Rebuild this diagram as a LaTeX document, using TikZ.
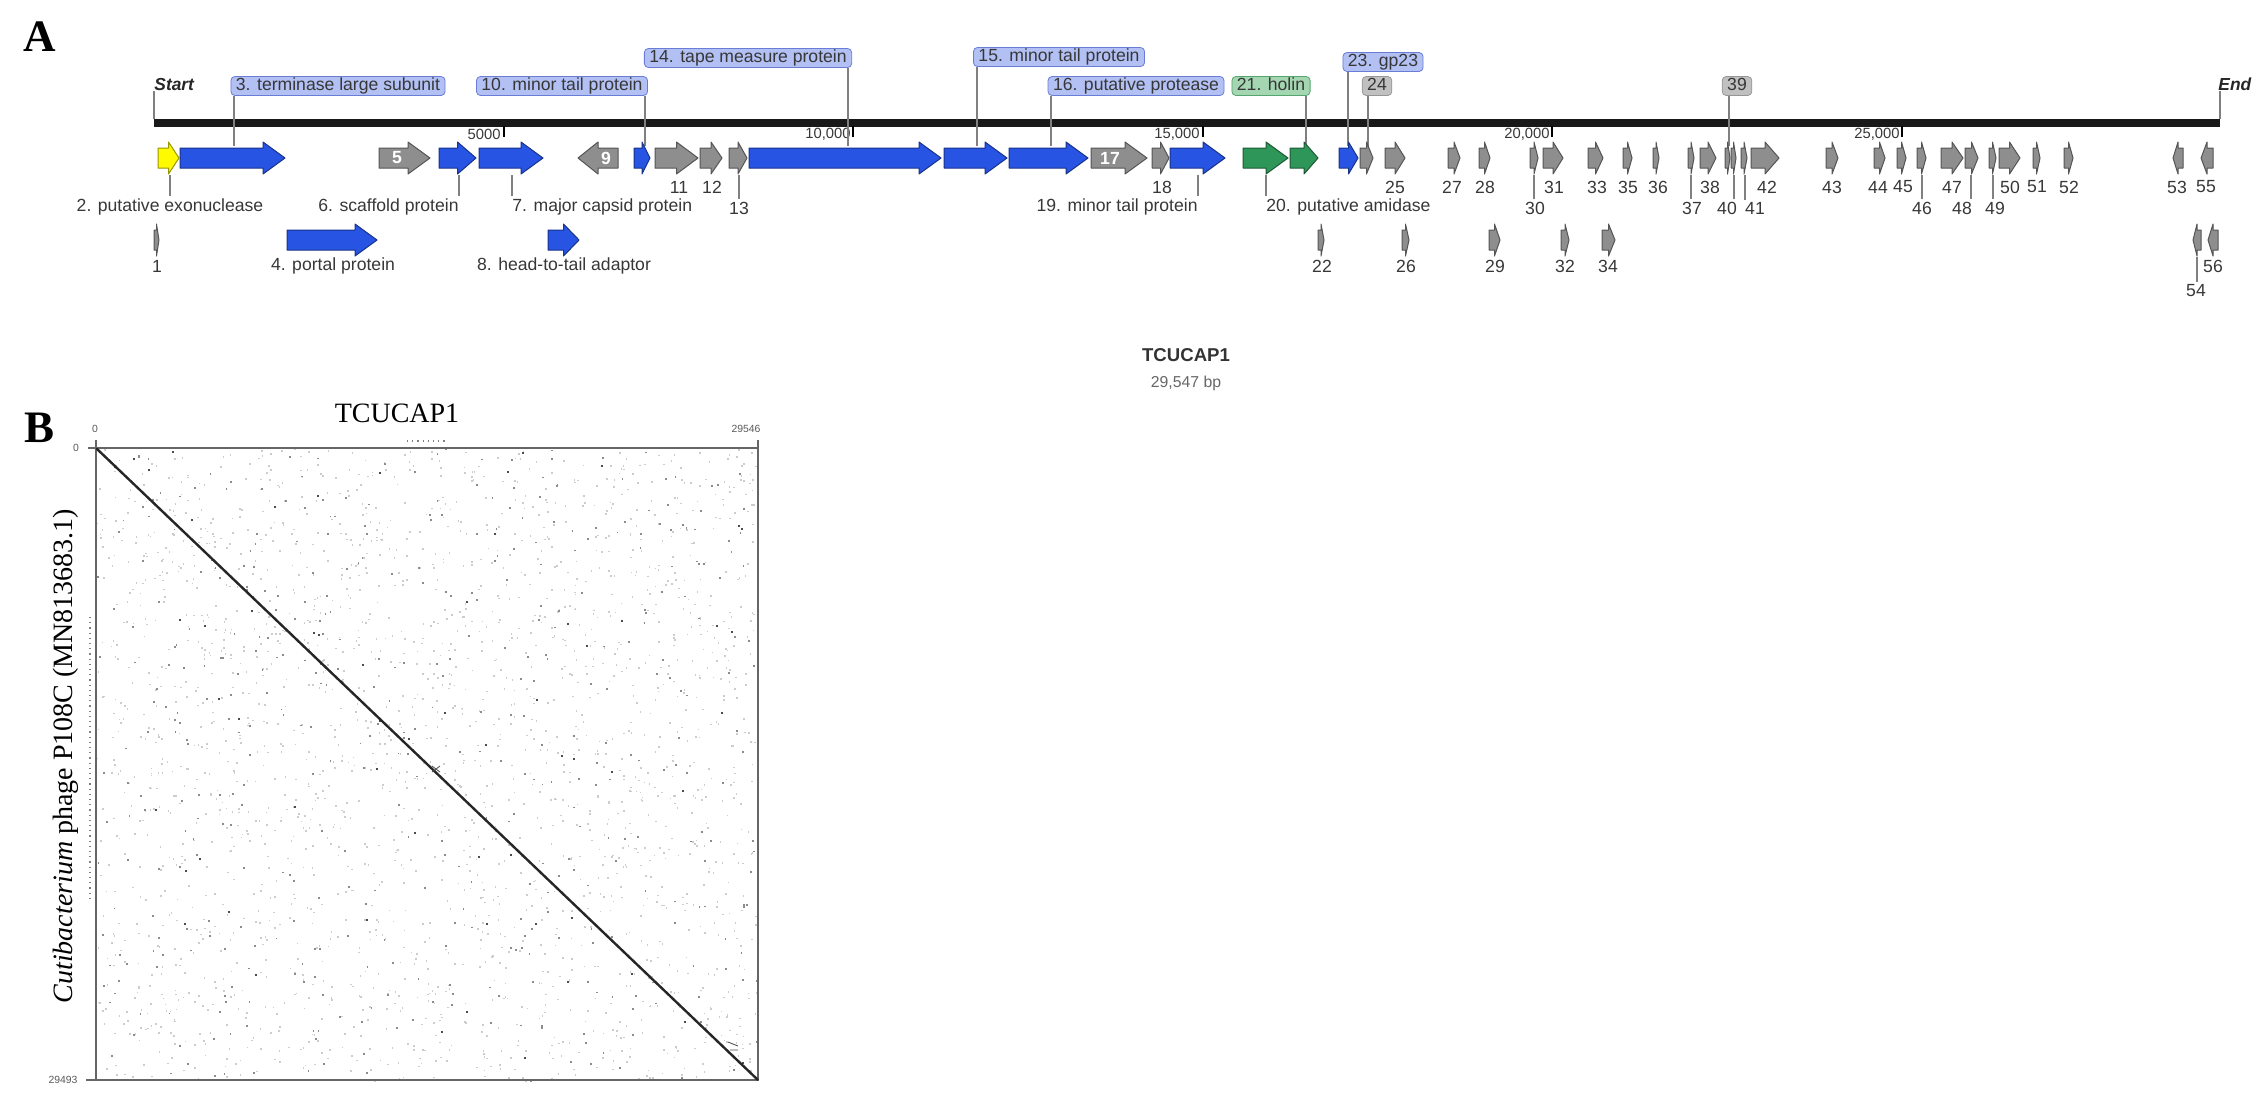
\documentclass[tikz,border=0pt]{standalone}
\usepackage{fontspec}
\setmainfont{Liberation Serif}
\setsansfont{Liberation Sans}
\usetikzlibrary{positioning}
\definecolor{cdsblue}{RGB}{40,84,228}
\definecolor{cdsgray}{RGB}{142,142,142}
\definecolor{cdsgreen}{RGB}{46,150,88}
\definecolor{cdsyellow}{RGB}{255,250,0}
\definecolor{tagblue}{RGB}{178,192,244}
\definecolor{tagblueline}{RGB}{105,125,215}
\definecolor{taggreen}{RGB}{164,214,178}
\definecolor{taggreenline}{RGB}{85,165,110}
\definecolor{taggray}{RGB}{192,192,192}
\definecolor{taggrayline}{RGB}{150,150,150}
\definecolor{ink}{RGB}{55,55,55}

\begin{document}
\begin{tikzpicture}[x=0.5pt, y=-0.5pt,
    panel/.style={font=\fontsize{22.5}{24}\selectfont\bfseries, inner sep=0pt},
    lbl/.style={font=\sffamily\fontsize{8.8}{10}\selectfont, text=ink, inner sep=1pt},
    tag/.style={lbl, rectangle, rounded corners=2pt, inner xsep=2.5pt, inner ysep=0.6pt, text height=6.5pt, text depth=1.8pt},
    bluetag/.style={tag, fill=tagblue, draw=tagblueline},
    greentag/.style={tag, fill=taggreen, draw=taggreenline},
    graytag/.style={tag, fill=taggray, draw=taggrayline},
    intext/.style={font=\sffamily\bfseries\fontsize{8.8}{10}\selectfont, text=white, inner sep=0pt},
    scalelbl/.style={font=\sffamily\fontsize{7.4}{8}\selectfont, text=ink, inner sep=0pt, anchor=east},
    endlbl/.style={font=\sffamily\bfseries\itshape\fontsize{8.7}{10}\selectfont, text=black!85, inner sep=0pt, anchor=base west},
    leader/.style={draw=black!50, line width=0.6pt},
    cds/.style={line width=0.5pt, line join=round},
    axislbl/.style={font=\sffamily\fontsize{5.2}{6}\selectfont, text=black!65, inner sep=0pt}
]
\useasboundingbox (0,0) rectangle (2268,1100);

\node[panel] (pa) at (40,37) {A};
\node[panel] (pb) at (40,428) {B};

\fill[black!90] (154,118.5) rectangle (2220,126.5);
\coordinate (gstart) at (154,118.5);
\coordinate (gend) at (2220,118.5);
\node[endlbl] (start) at (154,90) {Start};
\node[endlbl] (end) at (2218,90) {End};
\draw[leader] (gstart) -- (gstart |- start.south);
\draw[leader] (gend) -- (gend |- end.south);

\foreach \x in {503.6,853.2,1202.8,1552.4,1902}
  \draw[line width=1pt] (\x,126) -- (\x,137);
\node[scalelbl] (s5) at (501,134) {5000};
\node[scalelbl] (s10) at (851,134) {10,000};
\node[scalelbl] (s15) at (1200,134) {15,000};
\node[scalelbl] (s20) at (1550,134) {20,000};
\node[scalelbl] (s25) at (1900,134) {25,000};

\node[bluetag] (t3) at (338,86) {3. terminase large subunit};
\node[bluetag] (t10) at (562,86) {10. minor tail protein};
\node[bluetag] (t14) at (748,58) {14. tape measure protein};
\node[bluetag] (t15) at (1059,57) {15. minor tail protein};
\node[bluetag] (t16) at (1136,86) {16. putative protease};
\node[greentag] (t21) at (1271,86) {21. holin};
\node[bluetag] (t23) at (1383,62) {23. gp23};
\node[graytag] (t24) at (1377,86) {24};
\node[graytag] (t39) at (1737,86) {39};

\foreach \n/\x in {3/234,10/645,14/848,15/977,16/1051,21/1306,23/1348,24/1368,39/1729}
  {\coordinate (p\n) at (\x,146);
   \draw[leader] (t\n.south -| p\n) -- (p\n);}

\foreach \a/\b/\r/\c in {158/179/158/cdsyellow, 180/285/158/cdsblue, 379/430/158/cdsgray,
    439/476/158/cdsblue, 479/543/158/cdsblue, 618/578/158/cdsgray, 634/650/158/cdsblue,
    655/698/158/cdsgray, 700/722/158/cdsgray, 729/747/158/cdsgray, 749/941/158/cdsblue,
    944/1007/158/cdsblue, 1009/1088/158/cdsblue, 1091/1147/158/cdsgray, 1152/1169/158/cdsgray,
    1170/1225/158/cdsblue, 1243/1288/158/cdsgreen, 1290/1318/158/cdsgreen, 1339/1358/158/cdsblue,
    1360/1373/158/cdsgray, 1385/1405/158/cdsgray, 1448/1460/158/cdsgray, 1479/1490/158/cdsgray,
    1530/1538/158/cdsgray, 1543/1563/158/cdsgray, 1588/1603/158/cdsgray, 1623/1632/158/cdsgray,
    1653/1659/158/cdsgray, 1688/1694/158/cdsgray, 1700/1716/158/cdsgray, 1725/1730/158/cdsgray,
    1731/1736/158/cdsgray, 1741/1747/158/cdsgray, 1751/1779/158/cdsgray, 1826/1838/158/cdsgray,
    1874/1885/158/cdsgray, 1897/1906/158/cdsgray, 1917/1926/158/cdsgray, 1941/1963/158/cdsgray,
    1965/1978/158/cdsgray, 1989/1996/158/cdsgray, 1999/2020/158/cdsgray, 2033/2040/158/cdsgray,
    2064/2073/158/cdsgray, 2183/2173/158/cdsgray, 2213/2201/158/cdsgray,
    154/159/240/cdsgray, 287/377/240/cdsblue, 548/579/240/cdsblue, 1318/1324/240/cdsgray,
    1402/1409/240/cdsgray, 1489/1500/240/cdsgray, 1561/1569/240/cdsgray, 1602/1615/240/cdsgray,
    2201/2193/240/cdsgray, 2218/2208/240/cdsgray}
  {\pgfmathsetmacro{\hl}{sign(\b-\a)*min(22,abs(\b-\a)/2)}
   \filldraw[cds, fill=\c, draw=\c!60!black] (\a,\r-10) -- ({\b-\hl},\r-10) -- ({\b-\hl},\r-16)
     -- (\b,\r) -- ({\b-\hl},\r+16) -- ({\b-\hl},\r+10) -- (\a,\r+10) -- cycle;}

\node[intext] (g5) at (397,158) {5};
\node[intext] (g9) at (606,158) {9};
\node[intext] (g17) at (1110,158) {17};

\node[lbl] (l2) at (170,207) {2. putative exonuclease};
\node[lbl, anchor=east] (l6) at (461,207) {6. scaffold protein};
\node[lbl, anchor=west] (l7) at (510,207) {7. major capsid protein};
\node[lbl, anchor=east] (l19) at (1200,207) {19. minor tail protein};
\node[lbl, anchor=west] (l20) at (1264,207) {20. putative amidase};
\node[lbl] (l4) at (333,266) {4. portal protein};
\node[lbl] (l8) at (564,266) {8. head-to-tail adaptor};

\foreach \t/\x in {11/679,12/712,18/1162,25/1395,27/1452,28/1485,31/1554,33/1597,35/1628,
    36/1658,38/1710,42/1767,43/1832,44/1878,45/1903,47/1952,50/2010,51/2037,52/2069,53/2177,55/2206}
  \node[lbl] (n\t) at (\x,187) {\t};
\foreach \t/\x in {13/739,30/1535,37/1692,40/1727,41/1755,46/1922,48/1962,49/1995}
  \node[lbl] (n\t) at (\x,208) {\t};
\foreach \t/\x in {1/157,22/1322,26/1406,29/1495,32/1565,34/1608,56/2213}
  \node[lbl] (n\t) at (\x,266) {\t};
\node[lbl] (n54) at (2196,291) {54};

\foreach \n/\x in {2/170,6/459,7/512,19/1198,20/1266}
  {\coordinate (p\n) at (\x,175);
   \draw[leader] (p\n) -- (p\n |- l\n.north);}
\foreach \n/\x in {13/739,30/1534,37/1691,40/1734,41/1745,46/1922,48/1971,49/1993}
  {\coordinate (p\n) at (\x,175);
   \draw[leader] (p\n) -- (p\n |- n\n.north);}
\coordinate (p54) at (2197,257);
\draw[leader] (p54) -- (p54 |- n54.north);

\node[font=\sffamily\bfseries\fontsize{9.3}{10}\selectfont, text=black!80] (gname) at (1186,355) {TCUCAP1};
\node[font=\sffamily\fontsize{7.9}{9}\selectfont, text=black!60, below=0pt of gname] (glen) {29,547 bp};

\coordinate (o) at (96,448);
\coordinate (e) at (758,1080);
\pgfmathsetseed{17}
\foreach \i in {1,...,2200}
  \fill[black!20] ({96+662*rnd},{448+632*rnd}) rectangle ++(1.6,1.6);
\foreach \i in {1,...,450}
  \fill[black!45] ({96+662*rnd},{448+632*rnd}) rectangle ++(1.8,1.8);
\foreach \i in {1,...,60}
  \fill[black!70] ({96+662*rnd},{448+632*rnd}) rectangle ++(2,2);
\draw[black!50, line width=0.6pt, dotted] (90,617) -- (90,900);
\draw[black!50, line width=0.6pt, dotted] (407,441) -- (445,441);
\draw[black!60, line width=0.9pt] (o) rectangle (e);
\draw[black!85, line width=1.2pt] (o) -- (e);
\draw[black!70, line width=0.4pt] (432,766) -- (440,772) (432,772) -- (440,766);
\draw[black!70, line width=0.4pt] (728,1042) -- (738,1046) (730,1050) -- (738,1050);
\draw[black!60, line width=0.8pt] (o) -- ++(0,-8) (o) -- ++(-8,0) (e |- o) -- ++(0,-8) (o |- e) -- ++(-10,0);
\node[axislbl] (x0) at (95,429) {0};
\node[axislbl] (x1) at (746,429) {29546};
\node[axislbl] (y0) at (76,448) {0};
\node[axislbl] (y1) at (63,1080) {29493};
\node[font=\fontsize{14}{16}\selectfont] (ptitle) at (397,413) {TCUCAP1};
\node[font=\fontsize{14}{16}\selectfont, rotate=90] (ylab) at (66,756) {\textit{Cutibacterium} phage P108C (MN813683.1)};
\end{tikzpicture}
\end{document}
